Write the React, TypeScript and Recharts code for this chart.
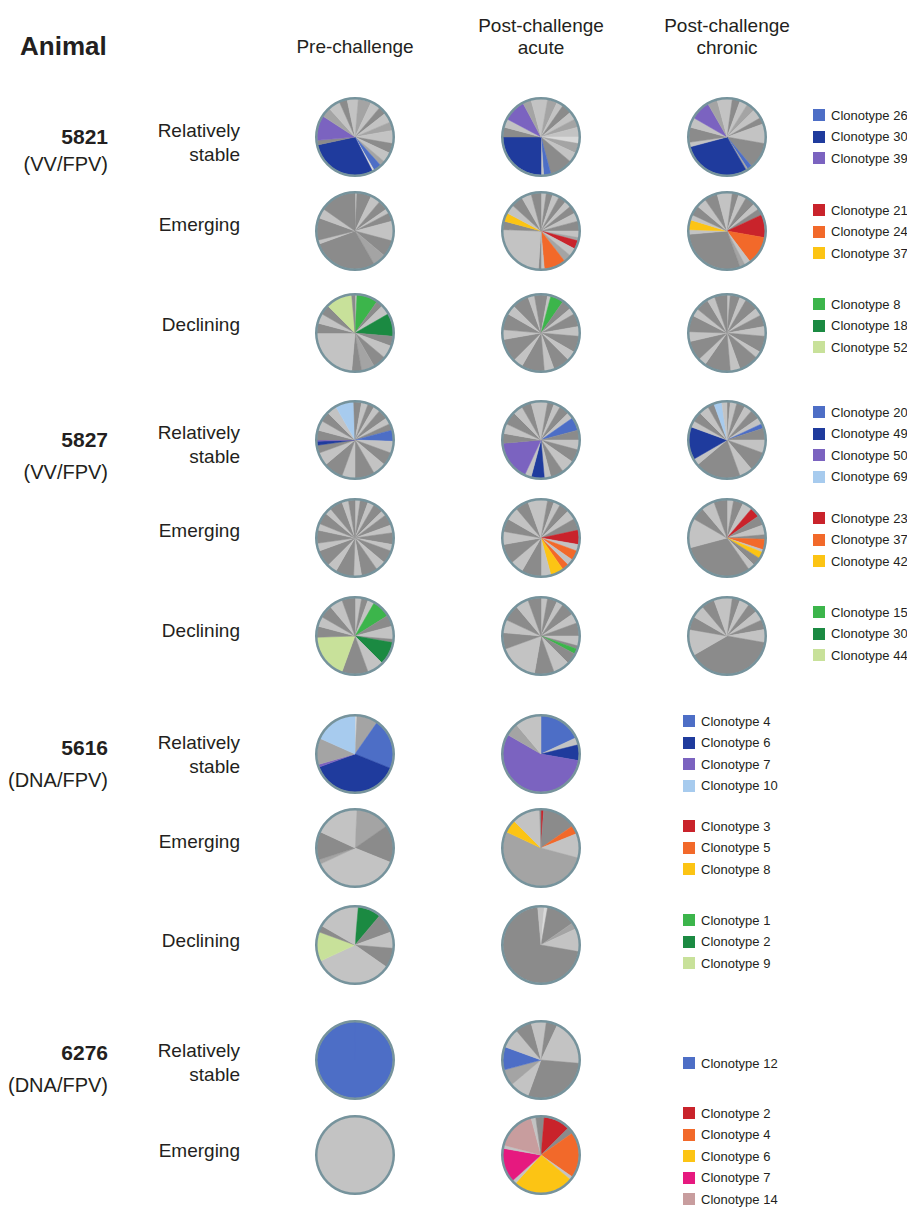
import { PieChart, Pie, Cell } from 'recharts'

type Slice = [number, string]

// gray shades for the unlabelled clonotypes
const GRAYS: Record<string, string> = {
  d: '#8b8b8b',
  m: '#a4a4a4',
  l: '#c3c3c3',
  w: '#d9d9d9',
}

// highlighted clonotypes
const CLONE_COLORS: Record<string, string> = {
  blue: '#4d6ec6',
  navy: '#1f3b9d',
  purple: '#7b63c0',
  sky: '#a7cbee',
  red: '#c9232b',
  orange: '#f2692a',
  yellow: '#fcc414',
  green: '#3cb54b',
  forest: '#1b8a42',
  lime: '#c8e19a',
  magenta: '#e6197f',
  rose: '#c89d9e',
}

const fillOf = (key: string) => GRAYS[key] ?? CLONE_COLORS[key]

// slice sizes are in degrees, clockwise from 12 o'clock

// 5821 (VV/FPV)
const a5821StablePre: Slice[] = [[5, 'l'], [20, 'm'], [15, 'l'], [12, 'd'], [15, 'l'], [13, 'm'], [20, 'l'], [15, 'd'], [15, 'l'], [8, 'm'], [12, 'blue'], [3, 'w'], [105, 'navy'], [7, 'd'], [38, 'purple'], [15, 'm'], [18, 'l'], [12, 'd'], [12, 'l']]
const a5821StableAcute: Slice[] = [[10, 'l'], [15, 'm'], [10, 'l'], [15, 'd'], [12, 'l'], [13, 'm'], [15, 'l'], [10, 'w'], [15, 'm'], [15, 'l'], [35, 'd'], [11, 'blue'], [4, 'l'], [90, 'navy'], [15, 'd'], [13, 'l'], [34, 'purple'], [13, 'm'], [15, 'l']]
const a5821StableChronic: Slice[] = [[8, 'l'], [12, 'd'], [12, 'l'], [13, 'm'], [15, 'l'], [10, 'd'], [30, 'l'], [40, 'd'], [7, 'blue'], [3, 'm'], [105, 'navy'], [7, 'l'], [23, 'd'], [15, 'l'], [30, 'purple'], [15, 'm'], [15, 'l']]
const a5821EmergPre: Slice[] = [[3, 'l'], [22, 'd'], [15, 'l'], [15, 'd'], [7, 'l'], [13, 'd'], [30, 'l'], [25, 'd'], [20, 'm'], [100, 'd'], [6, 'l'], [34, 'd'], [15, 'l'], [55, 'd']]
const a5821EmergAcute: Slice[] = [[8, 'l'], [10, 'd'], [10, 'l'], [12, 'd'], [10, 'l'], [12, 'd'], [13, 'l'], [15, 'd'], [10, 'l'], [5, 'm'], [13, 'red'], [12, 'l'], [12, 'm'], [33, 'orange'], [5, 'l'], [4, 'd'], [88, 'l'], [13, 'd'], [13, 'yellow'], [14, 'l'], [18, 'd'], [15, 'l'], [15, 'd']]
const a5821EmergChronic: Slice[] = [[8, 'l'], [10, 'd'], [12, 'l'], [15, 'd'], [10, 'l'], [10, 'd'], [35, 'red'], [43, 'orange'], [9, 'l'], [8, 'm'], [105, 'd'], [7, 'l'], [15, 'yellow'], [8, 'l'], [15, 'd'], [15, 'l'], [20, 'd'], [15, 'l']]
const a5821DeclPre: Slice[] = [[3, 'l'], [32, 'green'], [10, 'd'], [15, 'l'], [35, 'forest'], [15, 'd'], [20, 'l'], [20, 'd'], [20, 'm'], [15, 'd'], [85, 'l'], [15, 'd'], [15, 'l'], [15, 'd'], [40, 'lime'], [5, 'd']]
const a5821DeclAcute: Slice[] = [[10, 'd'], [5, 'l'], [20, 'green'], [15, 'd'], [10, 'l'], [20, 'd'], [15, 'l'], [25, 'd'], [15, 'l'], [25, 'd'], [15, 'l'], [35, 'd'], [15, 'l'], [35, 'd'], [15, 'l'], [25, 'd'], [15, 'l'], [25, 'd'], [10, 'l'], [10, 'd']]
const a5821DeclChronic: Slice[] = [[5, 'l'], [15, 'd'], [10, 'l'], [20, 'd'], [12, 'l'], [18, 'd'], [15, 'l'], [25, 'd'], [10, 'l'], [30, 'd'], [15, 'l'], [40, 'd'], [12, 'l'], [30, 'd'], [15, 'l'], [25, 'd'], [12, 'l'], [20, 'd'], [12, 'l'], [19, 'd']]

// 5827 (VV/FPV)
const a5827StablePre: Slice[] = [[10, 'd'], [10, 'l'], [10, 'd'], [10, 'l'], [15, 'd'], [10, 'l'], [10, 'd'], [17, 'blue'], [18, 'l'], [20, 'd'], [20, 'l'], [30, 'd'], [20, 'l'], [30, 'd'], [20, 'l'], [12, 'd'], [6, 'navy'], [2, 'purple'], [15, 'd'], [15, 'l'], [15, 'd'], [15, 'l'], [28, 'sky'], [2, 'd']]
const a5827StableAcute: Slice[] = [[10, 'l'], [10, 'd'], [10, 'l'], [15, 'd'], [10, 'l'], [20, 'blue'], [15, 'd'], [15, 'l'], [20, 'd'], [20, 'l'], [20, 'd'], [10, 'l'], [20, 'navy'], [10, 'l'], [60, 'purple'], [15, 'd'], [15, 'l'], [20, 'd'], [15, 'l'], [15, 'd'], [15, 'l']]
const a5827StableChronic: Slice[] = [[5, 'd'], [10, 'l'], [13, 'd'], [12, 'l'], [15, 'd'], [10, 'l'], [7, 'blue'], [18, 'd'], [20, 'l'], [30, 'd'], [20, 'l'], [70, 'd'], [10, 'l'], [50, 'navy'], [10, 'l'], [15, 'd'], [15, 'l'], [10, 'd'], [12, 'sky'], [8, 'l']]
const a5827EmergPre: Slice[] = [[8, 'l'], [12, 'd'], [10, 'l'], [15, 'd'], [8, 'l'], [17, 'd'], [12, 'l'], [18, 'd'], [10, 'l'], [20, 'd'], [15, 'l'], [25, 'd'], [12, 'l'], [28, 'd'], [15, 'l'], [25, 'd'], [12, 'l'], [20, 'd'], [10, 'l'], [18, 'd'], [10, 'l'], [20, 'd'], [10, 'l'], [10, 'd']]
const a5827EmergAcute: Slice[] = [[10, 'l'], [10, 'd'], [10, 'l'], [15, 'd'], [15, 'l'], [18, 'd'], [22, 'red'], [10, 'l'], [15, 'orange'], [10, 'l'], [10, 'orange'], [20, 'yellow'], [15, 'l'], [30, 'd'], [20, 'l'], [30, 'd'], [20, 'l'], [20, 'd'], [20, 'l'], [20, 'd'], [20, 'l']]
const a5827EmergChronic: Slice[] = [[10, 'l'], [15, 'd'], [15, 'l'], [15, 'red'], [15, 'd'], [15, 'l'], [7, 'd'], [16, 'orange'], [4, 'l'], [10, 'yellow'], [13, 'd'], [10, 'l'], [110, 'd'], [45, 'l'], [20, 'd'], [20, 'l'], [20, 'd']]
const a5827DeclPre: Slice[] = [[10, 'l'], [10, 'd'], [10, 'l'], [28, 'green'], [17, 'd'], [20, 'l'], [5, 'd'], [35, 'forest'], [25, 'l'], [40, 'd'], [68, 'lime'], [17, 'd'], [15, 'l'], [20, 'd'], [20, 'l'], [20, 'd']]
const a5827DeclAcute: Slice[] = [[10, 'l'], [15, 'd'], [10, 'l'], [20, 'd'], [15, 'l'], [20, 'd'], [15, 'l'], [5, 'd'], [8, 'green'], [17, 'd'], [25, 'l'], [30, 'd'], [60, 'l'], [25, 'd'], [20, 'l'], [25, 'd'], [20, 'l'], [20, 'd']]
const a5827DeclChronic: Slice[] = [[8, 'l'], [12, 'd'], [15, 'l'], [15, 'd'], [15, 'l'], [15, 'd'], [20, 'l'], [140, 'd'], [40, 'l'], [20, 'd'], [20, 'l'], [20, 'd'], [20, 'l']]

// 5616 (DNA/FPV)
const a5616StablePre: Slice[] = [[3, 'w'], [32, 'm'], [77, 'blue'], [138, 'navy'], [4, 'purple'], [40, 'm'], [66, 'sky']]
const a5616StableAcute: Slice[] = [[65, 'blue'], [11, 'l'], [24, 'navy'], [200, 'purple'], [20, 'm'], [40, 'l']]
const a5616EmergPre: Slice[] = [[3, 'l'], [52, 'm'], [57, 'd'], [133, 'l'], [7, 'm'], [43, 'd'], [65, 'l']]
const a5616EmergAcute: Slice[] = [[4, 'red'], [51, 'd'], [13, 'orange'], [37, 'l'], [190, 'm'], [20, 'yellow'], [43, 'l'], [2, 'd']]
const a5616DeclPre: Slice[] = [[5, 'l'], [35, 'forest'], [30, 'd'], [25, 'l'], [30, 'd'], [120, 'l'], [45, 'lime'], [10, 'd'], [60, 'l']]
const a5616DeclAcute: Slice[] = [[5, 'l'], [5, 'w'], [45, 'd'], [10, 'm'], [35, 'l'], [255, 'd'], [5, 'l']]

// 6276 (DNA/FPV)
const a6276StablePre: Slice[] = [[360, 'blue']]
const a6276StableAcute: Slice[] = [[8, 'l'], [17, 'd'], [70, 'l'], [105, 'd'], [30, 'l'], [25, 'm'], [35, 'blue'], [30, 'l'], [25, 'd'], [15, 'l']]
const a6276EmergPre: Slice[] = [[360, 'l']]
const a6276EmergAcute: Slice[] = [[5, 'd'], [40, 'red'], [10, 'd'], [70, 'orange'], [5, 'l'], [92, 'yellow'], [6, 'l'], [52, 'magenta'], [5, 'l'], [60, 'rose'], [7, 'l'], [8, 'd']]

const PHASES = [['Pre-challenge'], ['Post-challenge', 'acute'], ['Post-challenge', 'chronic']]
const COLUMN_X = [355, 541, 727]

const ANIMALS = [
  { id: '5821', tag: '(VV/FPV)', y: 137, tagY: 164 },
  { id: '5827', tag: '(VV/FPV)', y: 440, tagY: 472 },
  { id: '5616', tag: '(DNA/FPV)', y: 748, tagY: 780 },
  { id: '6276', tag: '(DNA/FPV)', y: 1053, tagY: 1085 },
]

type Row = {
  group: string[]
  labelY: number
  pieY: number
  pies: Slice[][]
  legend: [string, string][]
  legendX: number
  legendY: number
}

const ROWS: Row[] = [
  { group: ['Relatively', 'stable'], labelY: 143, pieY: 137, pies: [a5821StablePre, a5821StableAcute, a5821StableChronic], legend: [['Clonotype 26', 'blue'], ['Clonotype 30', 'navy'], ['Clonotype 39', 'purple']], legendX: 813, legendY: 115 },
  { group: ['Emerging'], labelY: 225, pieY: 231, pies: [a5821EmergPre, a5821EmergAcute, a5821EmergChronic], legend: [['Clonotype 21', 'red'], ['Clonotype 24', 'orange'], ['Clonotype 37', 'yellow']], legendX: 813, legendY: 210 },
  { group: ['Declining'], labelY: 325, pieY: 333, pies: [a5821DeclPre, a5821DeclAcute, a5821DeclChronic], legend: [['Clonotype 8', 'green'], ['Clonotype 18', 'forest'], ['Clonotype 52', 'lime']], legendX: 813, legendY: 304 },
  { group: ['Relatively', 'stable'], labelY: 445, pieY: 440, pies: [a5827StablePre, a5827StableAcute, a5827StableChronic], legend: [['Clonotype 20', 'blue'], ['Clonotype 49', 'navy'], ['Clonotype 50', 'purple'], ['Clonotype 69', 'sky']], legendX: 813, legendY: 412 },
  { group: ['Emerging'], labelY: 531, pieY: 538, pies: [a5827EmergPre, a5827EmergAcute, a5827EmergChronic], legend: [['Clonotype 23', 'red'], ['Clonotype 37', 'orange'], ['Clonotype 42', 'yellow']], legendX: 813, legendY: 518 },
  { group: ['Declining'], labelY: 631, pieY: 636, pies: [a5827DeclPre, a5827DeclAcute, a5827DeclChronic], legend: [['Clonotype 15', 'green'], ['Clonotype 30', 'forest'], ['Clonotype 44', 'lime']], legendX: 813, legendY: 612 },
  { group: ['Relatively', 'stable'], labelY: 755, pieY: 754, pies: [a5616StablePre, a5616StableAcute], legend: [['Clonotype 4', 'blue'], ['Clonotype 6', 'navy'], ['Clonotype 7', 'purple'], ['Clonotype 10', 'sky']], legendX: 683, legendY: 721 },
  { group: ['Emerging'], labelY: 842, pieY: 848, pies: [a5616EmergPre, a5616EmergAcute], legend: [['Clonotype 3', 'red'], ['Clonotype 5', 'orange'], ['Clonotype 8', 'yellow']], legendX: 683, legendY: 826 },
  { group: ['Declining'], labelY: 941, pieY: 945, pies: [a5616DeclPre, a5616DeclAcute], legend: [['Clonotype 1', 'green'], ['Clonotype 2', 'forest'], ['Clonotype 9', 'lime']], legendX: 683, legendY: 920 },
  { group: ['Relatively', 'stable'], labelY: 1063, pieY: 1060, pies: [a6276StablePre, a6276StableAcute], legend: [['Clonotype 12', 'blue']], legendX: 683, legendY: 1063 },
  { group: ['Emerging'], labelY: 1151, pieY: 1155, pies: [a6276EmergPre, a6276EmergAcute], legend: [['Clonotype 2', 'red'], ['Clonotype 4', 'orange'], ['Clonotype 6', 'yellow'], ['Clonotype 7', 'magenta'], ['Clonotype 14', 'rose']], legendX: 683, legendY: 1113 },
]

const R = 38
const RIM = '#76939c'
const INK = '#231f20'

function ClonePie({ slices, cx, cy }: { slices: Slice[]; cx: number; cy: number }) {
  const data = slices.map(([value, key], i) => ({ name: `c${i}`, value, fill: fillOf(key) }))
  const size = 2 * R + 10
  return (
    <div style={{ position: 'absolute', left: cx - size / 2, top: cy - size / 2 }}>
      <PieChart width={size} height={size} margin={{ top: 0, right: 0, bottom: 0, left: 0 }}>
        <Pie
          data={data}
          dataKey="value"
          cx="50%"
          cy="50%"
          outerRadius={R}
          startAngle={90}
          endAngle={-270}
          isAnimationActive={false}
        >
          {data.map((d) => (
            <Cell key={d.name} fill={d.fill} stroke={d.fill} strokeWidth={0.5} />
          ))}
        </Pie>
        <Pie
          data={[{ name: 'rim', value: 1 }]}
          dataKey="value"
          cx="50%"
          cy="50%"
          innerRadius={R - 0.5}
          outerRadius={R + 2}
          startAngle={90}
          endAngle={-270}
          fill={RIM}
          stroke="none"
          isAnimationActive={false}
        />
      </PieChart>
    </div>
  )
}

function Label({
  x,
  y,
  align,
  lines,
  size = 19,
  bold = false,
  lineHeight = 22,
}: {
  x: number
  y: number
  align: 'left' | 'right' | 'center'
  lines: string[]
  size?: number
  bold?: boolean
  lineHeight?: number
}) {
  const w = 300
  const left = align === 'left' ? x : align === 'right' ? x - w : x - w / 2
  const h = lines.length * lineHeight
  return (
    <div
      style={{
        position: 'absolute',
        left,
        top: y - h / 2,
        width: w,
        textAlign: align,
        fontSize: size,
        fontWeight: bold ? 700 : 400,
        lineHeight: `${lineHeight}px`,
        whiteSpace: 'nowrap',
      }}
    >
      {lines.map((t) => (
        <div key={t}>{t}</div>
      ))}
    </div>
  )
}

function Legend({ items, x, y }: { items: [string, string][]; x: number; y: number }) {
  return (
    <>
      {items.map(([label, key], i) => (
        <div
          key={label}
          style={{
            position: 'absolute',
            left: x,
            top: y + i * 21.5 - 8,
            height: 16,
            display: 'flex',
            alignItems: 'center',
            fontSize: 13,
            whiteSpace: 'nowrap',
          }}
        >
          <span style={{ width: 12, height: 12, background: CLONE_COLORS[key], marginRight: 6 }} />
          {label}
        </div>
      ))}
    </>
  )
}

export default function App() {
  return (
    <div
      style={{
        position: 'absolute',
        left: 0,
        top: 0,
        width: 907,
        height: 1207,
        overflow: 'hidden',
        background: '#fff',
        color: INK,
        fontFamily: '"Liberation Sans", Arial, Helvetica, sans-serif',
      }}
    >
      <Label x={20} y={46} align="left" lines={['Animal']} size={26} bold />
      {PHASES.map((lines, i) => (
        <Label key={i} x={COLUMN_X[i]} y={lines.length === 1 ? 47 : 37} align="center" lines={lines} size={19} />
      ))}

      {ANIMALS.map((a) => (
        <div key={a.id}>
          <Label x={108} y={a.y} align="right" lines={[a.id]} size={21} bold />
          <Label x={108} y={a.tagY} align="right" lines={[a.tag]} size={20} />
        </div>
      ))}

      {ROWS.map((row, r) => (
        <div key={r}>
          <Label x={240} y={row.labelY} align="right" lines={row.group} size={19} lineHeight={24} />
          {row.pies.map((slices, c) => (
            <ClonePie key={c} slices={slices} cx={COLUMN_X[c]} cy={row.pieY} />
          ))}
          <Legend items={row.legend} x={row.legendX} y={row.legendY} />
        </div>
      ))}
    </div>
  )
}
